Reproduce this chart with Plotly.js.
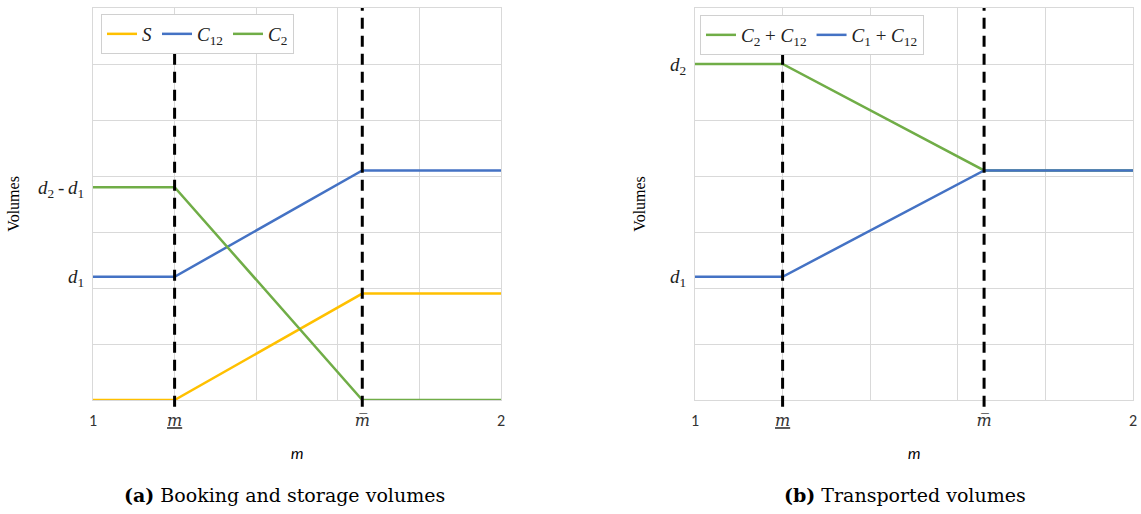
<!DOCTYPE html>
<html>
<head>
<meta charset="utf-8">
<script src="https://cdn.plot.ly/plotly-3.0.1.min.js"></script>
<style>html,body{margin:0;padding:0;background:#fff}#chart{width:1141px;height:514px}</style>
</head>
<body>
<div id="chart"></div>
<script>
// ---- data ----
const mValues = [1, 1.2, 1.66, 2];          // 1, m_, m̄, 2
const mLow = 1.2;
const mHigh = 1.66;
// (a) Booking and storage volumes
const S   = [0, 0, 1.9, 1.9];
const C12 = [2.2, 2.2, 4.1, 4.1];
const C2  = [3.8, 3.8, 0, 0];
// (b) Transported volumes
const C2plusC12 = [6, 6, 4.1, 4.1];
const C1plusC12 = [2.2, 2.2, 4.1, 4.1];
// tick labels
const mStyle = "font-family:'DejaVu Serif';font-style:italic;font-size:16px;";
const xTickVals = [1, 1.2, 1.66, 2];
const xTickText = ['1',
                   '<span style="' + mStyle + 'text-decoration:underline">m</span>',
                   '<span style="' + mStyle + '">m\u0305</span>',
                   '2'];
const yTickValsA = [2.2, 3.8];
const yTickTextA = ['<i>d</i><sub>1</sub>', '<i>d</i><sub>2</sub>\u2009-\u2009<i>d</i><sub>1</sub>'];
const yTickValsB = [2.2, 6];
const yTickTextB = ['<i>d</i><sub>1</sub>', '<i>d</i><sub>2</sub>'];

const GOLD = '#FFC000', BLUE = '#4472C4', GREEN = '#70AD47';
const serif = 'Liberation Serif, DejaVu Serif, serif';
const capSerif = 'DejaVu Serif, Liberation Serif, serif';
const sans = 'Carlito, Liberation Sans, Arial, sans-serif';

const traces = [
  {x: mValues, y: S,   name: '<i>S</i>', mode: 'lines', line: {color: GOLD, width: 2.5}, xaxis: 'x', yaxis: 'y', legend: 'legend'},
  {x: mValues, y: C12, name: '<i>C</i><sub>12</sub>', mode: 'lines', line: {color: BLUE, width: 2.5}, xaxis: 'x', yaxis: 'y', legend: 'legend'},
  {x: mValues, y: C2,  name: '<i>C</i><sub>2</sub>', mode: 'lines', line: {color: GREEN, width: 2.5}, xaxis: 'x', yaxis: 'y', legend: 'legend'},
  {x: mValues, y: C2plusC12, name: '<i>C</i><sub>2</sub> + <i>C</i><sub>12</sub>', mode: 'lines', line: {color: GREEN, width: 2.5}, xaxis: 'x2', yaxis: 'y2', legend: 'legend2'},
  {x: mValues, y: C1plusC12, name: '<i>C</i><sub>1</sub> + <i>C</i><sub>12</sub>', mode: 'lines', line: {color: BLUE, width: 2.5}, xaxis: 'x2', yaxis: 'y2', legend: 'legend2'}
];

function xAxis(domain, anchor) {
  return {
    domain: domain, anchor: anchor, range: [1, 2],
    tickvals: xTickVals, ticktext: xTickText, ticks: '',
    tickfont: {family: sans, size: 16, color: '#333'},
    ticklabelstandoff: 6,
    showgrid: false, zeroline: false,
    showline: true, linecolor: '#d9d9d9', linewidth: 1, mirror: true,
    minor: {tick0: 1, dtick: 0.2, showgrid: true, gridcolor: '#d9d9d9', gridwidth: 1, ticks: ''},
    title: {text: '<i>m</i>', font: {family: sans, size: 16, color: '#000'}, standoff: 18},
    fixedrange: true
  };
}
function yAxis(anchor, tv, tt, standoff) {
  return {
    anchor: anchor, domain: [0, 1], range: [0, 7],
    tickvals: tv, ticktext: tt, ticks: '',
    tickfont: {family: serif, size: 19, color: '#222'},
    ticklabelstandoff: 4,
    showgrid: false, zeroline: false,
    showline: true, linecolor: '#d9d9d9', linewidth: 1, mirror: true,
    minor: {tick0: 0, dtick: 1, showgrid: true, gridcolor: '#d9d9d9', gridwidth: 1, ticks: ''},
    title: {text: 'Volumes', font: {family: serif, size: 16, color: '#000'}, standoff: standoff},
    fixedrange: true
  };
}

// dashed vertical markers; the m_ lines stop under the legend box like in the reference
function dashed(xref, xv, top) {
  return {type: 'line', xref: xref, yref: 'paper', x0: xv, x1: xv, y0: -0.017, y1: top,
          line: {color: '#000', width: 3, dash: '11px,7px'}, layer: 'above'};
}
const underLegend = (400 - 51) / 392;

const layout = {
  width: 1141, height: 514,
  margin: {l: 0, r: 0, t: 8, b: 114},
  paper_bgcolor: '#fff', plot_bgcolor: '#fff',
  showlegend: true,
  xaxis: xAxis([93/1141, 501/1141], 'y'),
  yaxis: yAxis('x', yTickValsA, yTickTextA, 14),
  xaxis2: xAxis([695/1141, 1133/1141], 'y2'),
  yaxis2: yAxis('x2', yTickValsB, yTickTextB, 20),
  legend: {orientation: 'h', x: 101/1141, xanchor: 'left', y: (514-14-114)/392, yanchor: 'top',
           bgcolor: '#fff', bordercolor: '#d0d0d0', borderwidth: 1,
           font: {family: serif, size: 19, color: '#222'}, itemwidth: 30},
  legend2: {orientation: 'h', x: 700/1141, xanchor: 'left', y: (514-15-114)/392, yanchor: 'top',
           bgcolor: '#fff', bordercolor: '#d0d0d0', borderwidth: 1,
           font: {family: serif, size: 19, color: '#222'}, itemwidth: 30},
  shapes: [dashed('x', mLow, underLegend), dashed('x', mHigh, 1),
           dashed('x2', mLow, underLegend), dashed('x2', mHigh, 1)],
  annotations: [
    {xref: 'paper', yref: 'paper', x: 284/1141, y: -95/392, xanchor: 'center', yanchor: 'middle', showarrow: false,
     text: '<b>(a)</b> Booking and storage volumes', font: {family: capSerif, size: 19, color: '#000'}},
    {xref: 'paper', yref: 'paper', x: 905/1141, y: -95/392, xanchor: 'center', yanchor: 'middle', showarrow: false,
     text: '<b>(b)</b> Transported volumes', font: {family: capSerif, size: 19, color: '#000'}}
  ]
};

Plotly.newPlot('chart', traces, layout, {displayModeBar: false, staticPlot: true});
</script>
</body>
</html>
